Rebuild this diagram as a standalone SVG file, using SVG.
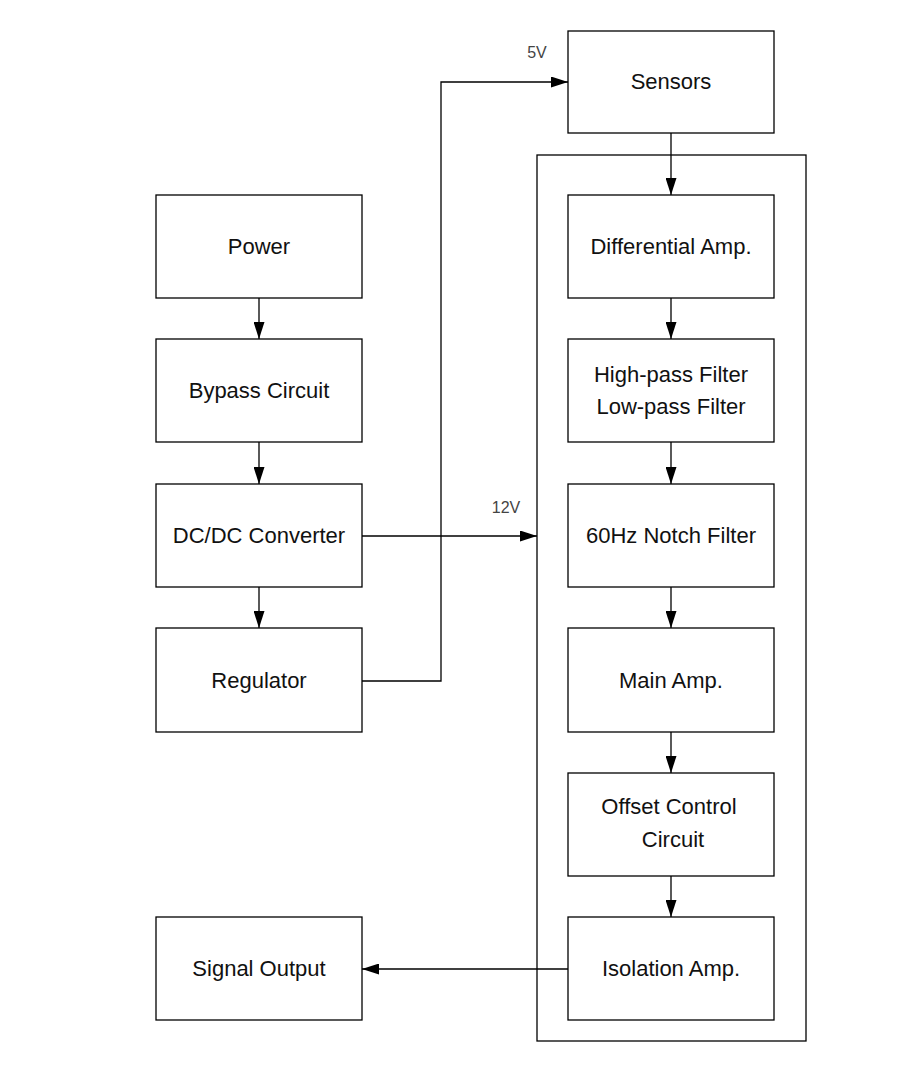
<svg xmlns="http://www.w3.org/2000/svg" width="924" height="1071" viewBox="0 0 924 1071">
<style>
.box{fill:#fff;stroke:#000;stroke-width:1.3}
.cont{fill:none;stroke:#000;stroke-width:1.3}
.t{font-family:"Liberation Sans",Arial,sans-serif;font-size:22px;fill:#111;text-anchor:middle}
.lbl{font-family:"Liberation Sans",Arial,sans-serif;font-size:16px;fill:#444;text-anchor:middle}
.c{fill:none;stroke:#000;stroke-width:1.3}
</style>
<defs>
<marker id="ah" markerUnits="userSpaceOnUse" markerWidth="17" markerHeight="11" refX="17" refY="5.5" orient="auto">
<path d="M0,0 L17,5.5 L0,11 z" fill="#000"/>
</marker>
</defs>
<rect width="924" height="1071" fill="#fff"/>
<g id="container"><rect class="cont" x="537" y="155" width="269" height="886"/></g>
<g id="connectors">
<path class="c" d="M671,133 V195" marker-end="url(#ah)"/>
<path class="c" d="M259,298 V339" marker-end="url(#ah)"/>
<path class="c" d="M259,442 V484" marker-end="url(#ah)"/>
<path class="c" d="M259,587 V628" marker-end="url(#ah)"/>
<path class="c" d="M671,298 V339" marker-end="url(#ah)"/>
<path class="c" d="M671,442 V484" marker-end="url(#ah)"/>
<path class="c" d="M671,587 V628" marker-end="url(#ah)"/>
<path class="c" d="M671,732 V773" marker-end="url(#ah)"/>
<path class="c" d="M671,876 V917" marker-end="url(#ah)"/>
<path class="c" d="M362,536 H537" marker-end="url(#ah)"/>
<path class="c" d="M362,681 H441 V82 H568" marker-end="url(#ah)"/>
<path class="c" d="M568,969 H362" marker-end="url(#ah)"/>
<text class="lbl" x="537" y="58">5V</text>
<text class="lbl" x="506" y="513">12V</text>
</g>
<g id="sensors"><rect class="box" x="568" y="31" width="206" height="102"/><text class="t" x="671" y="89">Sensors</text></g>
<g id="power"><rect class="box" x="156" y="195" width="206" height="103"/><text class="t" x="259" y="254">Power</text></g>
<g id="diffamp"><rect class="box" x="568" y="195" width="206" height="103"/><text class="t" x="671" y="254">Differential Amp.</text></g>
<g id="bypass"><rect class="box" x="156" y="339" width="206" height="103"/><text class="t" x="259" y="398">Bypass Circuit</text></g>
<g id="filters"><rect class="box" x="568" y="339" width="206" height="103"/><text class="t" x="671" y="382">High-pass Filter</text><text class="t" x="671" y="414">Low-pass Filter</text></g>
<g id="dcdc"><rect class="box" x="156" y="484" width="206" height="103"/><text class="t" x="259" y="543">DC/DC Converter</text></g>
<g id="notch"><rect class="box" x="568" y="484" width="206" height="103"/><text class="t" x="671" y="543">60Hz Notch Filter</text></g>
<g id="regulator"><rect class="box" x="156" y="628" width="206" height="104"/><text class="t" x="259" y="688">Regulator</text></g>
<g id="mainamp"><rect class="box" x="568" y="628" width="206" height="104"/><text class="t" x="671" y="688">Main Amp.</text></g>
<g id="offset"><rect class="box" x="568" y="773" width="206" height="103"/><text class="t" x="669" y="814">Offset Control</text><text class="t" x="673" y="847">Circuit</text></g>
<g id="signalout"><rect class="box" x="156" y="917" width="206" height="103"/><text class="t" x="259" y="976">Signal Output</text></g>
<g id="isolation"><rect class="box" x="568" y="917" width="206" height="103"/><text class="t" x="671" y="976">Isolation Amp.</text></g>
</svg>
